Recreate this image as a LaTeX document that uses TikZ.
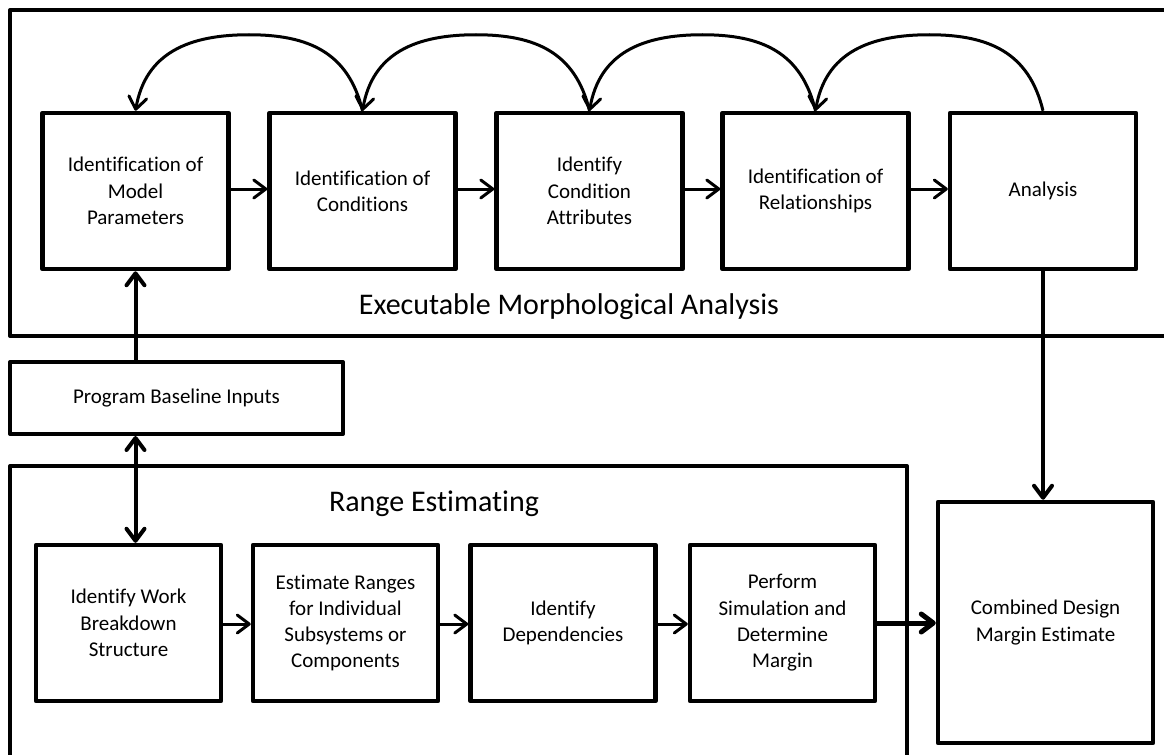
\documentclass[tikz,border=0pt]{standalone}
\usepackage{fontspec}
\setmainfont{Carlito}[Ligatures={NoCommon}]
\usetikzlibrary{arrows.meta,calc}
\begin{document}
\begin{tikzpicture}[x=1bp,y=1bp,
  txt/.style={font=\fontsize{21bp}{26.3bp}\selectfont, align=center},
  box/.style={txt, draw, line width=4.5bp, line join=round, inner sep=0pt,
              minimum width=186bp, minimum height=156bp},
  bbox/.style={box, minimum width=185bp},
  container/.style={draw, line width=4bp, line join=round},
  biglabel/.style={font=\fontsize{30bp}{36bp}\selectfont, inner sep=0pt},
  tip/.style={-{Straight Barb[length=12bp, width=18bp, line cap=round, line join=round]}},
  dtip/.style={{Straight Barb[length=12bp, width=18bp, line cap=round, line join=round]}-{Straight Barb[length=12bp, width=18bp, line cap=round, line join=round]}},
  flow/.style={tip, line width=3bp},
  vflow/.style={tip, line width=4bp},
  arcflow/.style={tip, line width=3bp},
]
\useasboundingbox (0,0) rectangle (1164,-755);

% containers
\draw[container] (1190,-10) -- (10,-10) -- (10,-336) -- (1190,-336);
\draw[container] (10,-780) -- (10,-466) -- (907,-466) -- (907,-780);
\node[biglabel] (ema) at (569,-307) {Executable Morphological Analysis};
\node[biglabel] (rel) at (434,-504) {Range Estimating};

% top row
\node[box] (m1) at (135.5,-191) {Identification of\\Model\\Parameters};
\node[box] (m2) at (362.5,-191) {Identification of\\Conditions};
\node[box] (m3) at (589.5,-191) {Identify\\Condition\\Attributes};
\node[box] (m4) at (815.5,-191) {Identification of\\Relationships};
\node[box] (m5) at (1043,-191) {Analysis};

% inputs
\node[txt, draw, line width=4bp, line join=round, minimum width=333bp, minimum height=72bp, inner sep=0pt] (pbi) at (176.5,-398) {Program Baseline Inputs};

% bottom row
\node[bbox] (b1) at (128.5,-623) {Identify Work\\Breakdown\\Structure};
\node[bbox] (b2) at (345.5,-623) {Estimate Ranges\\for Individual\\Subsystems or\\Components};
\node[bbox] (b3) at (563,-623) {Identify\\Dependencies};
\node[bbox] (b4) at (782.5,-623) {Perform\\Simulation and\\Determine\\Margin};

\node[txt, draw, line width=4.5bp, line join=round, minimum width=215bp, minimum height=241bp, inner sep=0pt] (cd) at (1045.5,-622.5) {Combined Design\\Margin Estimate};

% top flow arrows
\draw[flow] ([yshift=2bp]m1.east) -- ([yshift=2bp]m2.west);
\draw[flow] ([yshift=2bp]m2.east) -- ([yshift=2bp]m3.west);
\draw[flow] ([yshift=2bp]m3.east) -- ([yshift=2bp]m4.west);
\draw[flow] ([yshift=2bp]m4.east) -- ([yshift=2bp]m5.west);

% feedback arcs (arrow at the left end)
\coordinate (p45) at ($(m5.north)!0.5!(m4.north)+(0,76)$);
\coordinate (p34) at ($(m4.north)!0.5!(m3.north)+(0,76)$);
\coordinate (p23) at ($(m3.north)!0.5!(m2.north)+(0,76)$);
\coordinate (p12) at ($(m2.north)!0.5!(m1.north)+(0,76)$);
\draw[arcflow] (m5.north) .. controls +(-14,58) and +(60,0) .. (p45)
  .. controls +(-60,0) and +(10,58) .. (m4.north);
\draw[arcflow] (m4.north) .. controls +(-14,58) and +(60,0) .. (p34)
  .. controls +(-60,0) and +(10,58) .. (m3.north);
\draw[arcflow] (m3.north) .. controls +(-14,58) and +(60,0) .. (p23)
  .. controls +(-60,0) and +(10,58) .. (m2.north);
\draw[arcflow] (m2.north) .. controls +(-14,58) and +(60,0) .. (p12)
  .. controls +(-60,0) and +(10,58) .. (m1.north);

% inputs links
\coordinate (pt) at (m1.south |- pbi.north);
\coordinate (pb) at (m1.south |- pbi.south);
\coordinate (bt) at (m1.south |- b1.north);
\draw[vflow] (pt) -- (m1.south);
\draw[dtip, line width=4bp] (pb) -- (bt);

% bottom flow arrows
\draw[flow] ([yshift=-1bp]b1.east) -- ([yshift=-1bp]b2.west);
\draw[flow] ([yshift=-1bp]b2.east) -- ([yshift=-1bp]b3.west);
\draw[flow] ([yshift=-1bp]b3.east) -- ([yshift=-1bp]b4.west);
\draw[tip, line width=5bp] (b4.east) -- (b4.east -| cd.west);

% analysis to combined
\coordinate (ct) at (m5.south |- cd.north);
\draw[vflow] (m5.south) -- (ct);
\end{tikzpicture}
\end{document}
